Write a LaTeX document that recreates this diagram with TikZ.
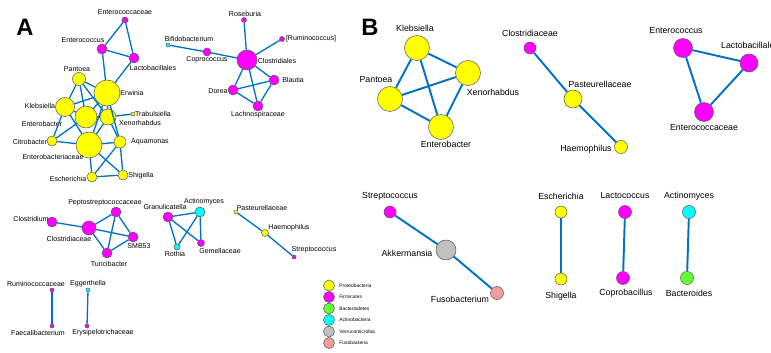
\documentclass[tikz,border=0pt]{standalone}
\usepackage{fontspec}
\setmainfont{Liberation Sans}
\usepackage{xcolor}
\usepackage{tikz}
\usetikzlibrary{arrows.meta}

\definecolor{edgeblue}{RGB}{0,114,198}
\definecolor{proyellow}{RGB}{255,255,0}
\definecolor{firmagenta}{RGB}{255,0,255}
\definecolor{bacgreen}{RGB}{102,255,51}
\definecolor{actcyan}{RGB}{0,255,255}
\definecolor{vergray}{RGB}{192,192,192}
\definecolor{fussalmon}{RGB}{244,155,155}

\newcommand\taxon[6]{\node[#1,minimum size=#4*0.4mm] (#2) at (#3) {};
  \node[lab] (#2-t) at (#5) {#6};}

\begin{document}
\begin{tikzpicture}[x=0.02cm,y=-0.02cm,
  sp/.style={circle,draw=black!65,line width=0.3pt,inner sep=0pt},
  pro/.style={sp,fill=proyellow},
  fir/.style={sp,fill=firmagenta},
  bac/.style={sp,fill=bacgreen},
  act/.style={sp,fill=actcyan},
  ver/.style={sp,fill=vergray},
  fus/.style={sp,fill=fussalmon},
  lab/.style={font=\fontsize{4}{4}\selectfont,inner sep=0pt},
  link/.style={draw=edgeblue,line width=0.75pt}]
\useasboundingbox (0,0) rectangle (771,352);

\node[font=\bfseries\fontsize{13.5}{14}\selectfont,inner sep=0pt] (labA) at (25,27) {A};
\node[font=\bfseries\fontsize{13.5}{14}\selectfont,inner sep=0pt] (labB) at (370,27) {B};

% panel A
\taxon{fir}{aEccae}{125,20}{3}{125,12}{Enterococcaceae}
\taxon{fir}{aEcoc}{102,49}{5}{83,40}{Enterococcus}
\taxon{fir}{aLact}{134,58}{5}{153,68}{Lactobacillales}
\taxon{pro}{aPant}{79,79}{6.5}{77,69}{Pantoea}
\taxon{pro}{aErw}{107,93}{13}{132,93}{Erwinia}
\taxon{pro}{aKleb}{65,107}{9.5}{40,106}{Klebsiella}
\taxon{pro}{aEntb}{86,117}{11}{42,124}{Enterobacter}
\taxon{pro}{aXen}{108,117}{8}{140,123}{Xenorhabdus}
\taxon{pro}{aTrab}{133,114}{2}{153,114}{Trabulsiella}
\taxon{pro}{aCit}{52,141}{5}{30,142}{Citrobacter}
\taxon{pro}{aEbac}{89,145}{13}{53,157}{Enterobacteriaceae}
\taxon{pro}{aAqua}{120,142}{6}{150,142}{Aquamonas}
\taxon{pro}{aEsch}{92,177}{5}{68,179}{Escherichia}
\taxon{pro}{aShig}{123,175}{5}{141,176}{Shigella}

\foreach \u/\v in {aEcoc/aEccae,aEcoc/aLact,aEccae/aLact,aEcoc/aErw,aLact/aErw,
  aPant/aErw,aPant/aKleb,aPant/aEntb,aPant/aXen,aErw/aKleb,aErw/aEntb,aErw/aXen,
  aErw/aEbac,aErw/aAqua,aKleb/aEntb,aKleb/aCit,aKleb/aEbac,aXen/aTrab,aXen/aAqua,
  aXen/aEbac,aXen/aEntb,aCit/aEbac,aCit/aEntb,aEbac/aAqua,aEbac/aEsch,aEbac/aShig,
  aAqua/aEsch,aAqua/aShig,aEsch/aShig}
  \draw[link] (\u) -- (\v);

\taxon{fir}{aRose}{244,20}{2.5}{245,14}{Roseburia}
\taxon{fir}{aRumi}{282,39}{2.5}{311,39}{[Ruminococcus]}
\taxon{act}{aBifi}{168,45}{2}{189,39}{Bifidobacterium}
\taxon{fir}{aCopr}{207,52}{4}{207,60}{Coprococcus}
\taxon{fir}{aClos}{247,60}{10}{277,61}{Clostridiales}
\taxon{fir}{aBlau}{274,80}{5}{293,80}{Blautia}
\taxon{fir}{aDore}{233,90}{5}{218,91}{Dorea}
\taxon{fir}{aLach}{258,106}{5}{258,115}{Lachnospiraceae}

\foreach \u/\v in {aRose/aClos,aRumi/aClos,aBifi/aCopr,aCopr/aClos,aClos/aBlau,
  aClos/aDore,aClos/aLach,aDore/aBlau,aDore/aLach,aBlau/aLach}
  \draw[link] (\u) -- (\v);

\taxon{fir}{aCdium}{52,222}{5}{31,219}{Clostridium}
\taxon{fir}{aPept}{116,212}{5}{105,203}{Peptostreptococcaceae}
\taxon{fir}{aCcae}{89,228}{7}{69,239}{Clostridiaceae}
\taxon{fir}{aSmb}{133,237}{5}{139,246}{SMB53}
\taxon{fir}{aTuri}{107,253}{5}{109,264}{Turicibacter}

\foreach \u/\v in {aCdium/aCcae,aCcae/aPept,aCcae/aSmb,aCcae/aTuri,aPept/aSmb,
  aPept/aTuri,aSmb/aTuri}
  \draw[link] (\u) -- (\v);

\taxon{fir}{aGran}{168,217}{5}{165,207}{Granulicatella}
\taxon{act}{aActi}{200,212}{5}{204,202}{Actinomyces}
\taxon{act}{aRoth}{177,247}{3}{175,254}{Rothia}
\taxon{fir}{aGeme}{201,243}{3.5}{220,251}{Gemellaceae}

\foreach \u/\v in {aGran/aActi,aGran/aRoth,aGran/aGeme,aActi/aRoth,aActi/aGeme}
  \draw[link] (\u) -- (\v);

\taxon{pro}{aPast}{236,212}{2}{262,208}{Pasteurellaceae}
\taxon{pro}{aHaem}{265,233}{3.5}{289,228}{Haemophilus}
\taxon{fir}{aStre}{294,257}{2}{314,250}{Streptococcus}
\draw[link] (aPast) -- (aHaem);
\draw[link] (aHaem) -- (aStre);

\taxon{fir}{aRcae}{52,290}{2}{36,284}{Ruminococcaceae}
\taxon{fir}{aFaec}{52,326}{2}{38,333}{Faecalibacterium}
\taxon{act}{aEgge}{88,290}{2}{88,284}{Eggerthella}
\taxon{fir}{aErys}{87,326}{2}{103,333}{Erysipelotrichaceae}
\draw[link] (aRcae) -- (aFaec);
\draw[link] (aEgge) -- (aErys);

% legend
\begin{scope}[lab/.style={font=\fontsize{2.8}{3}\selectfont,inner sep=0pt,anchor=west}]
\taxon{pro}{lgPro}{329,285.5}{5.5}{339,285.5}{Proteobacteria}
\taxon{fir}{lgFir}{329,297}{5.5}{339,297}{Firmicutes}
\taxon{bac}{lgBac}{329,308.5}{5.5}{339,308.5}{Bacteroidetes}
\taxon{act}{lgAct}{329,320}{5.5}{339,320}{Actinobacteria}
\taxon{ver}{lgVer}{329,331.5}{5.5}{339,331.5}{Verrucomicrobia}
\taxon{fus}{lgFus}{329,343}{5.5}{339,343}{Fusobacteria}
\end{scope}

% panel B
\begin{scope}[lab/.style={font=\fontsize{5}{5}\selectfont,inner sep=0pt},
  link/.append style={line width=1.1pt}]
\taxon{pro}{bKleb}{417,48}{12.5}{415,28}{Klebsiella}
\taxon{pro}{bXen}{468,73}{12.5}{493,92}{Xenorhabdus}
\taxon{pro}{bPant}{390,99}{12.5}{376,80}{Pantoea}
\taxon{pro}{bEntb}{441,127}{12.5}{446,144}{Enterobacter}
\foreach \u/\v in {bKleb/bXen,bKleb/bPant,bKleb/bEntb,bPant/bXen,bPant/bEntb,bXen/bEntb}
  \draw[link] (\u) -- (\v);

\taxon{fir}{bCcae}{530,48}{6}{530,33}{Clostridiaceae}
\taxon{pro}{bPast}{573,99}{9}{600,84}{Pasteurellaceae}
\taxon{pro}{bHaem}{621,147}{6.5}{586,149}{Haemophilus}
\draw[link] (bCcae) -- (bPast);
\draw[link] (bPast) -- (bHaem);

\taxon{fir}{bEcoc}{683,48}{9.5}{676,31}{Enterococcus}
\taxon{fir}{bLact}{749,63}{9}{750,45}{Lactobacillales}
\taxon{fir}{bEccae}{704,112}{9.5}{704,128}{Enterococcaceae}
\draw[link] (bEcoc) -- (bLact);
\draw[link] (bEcoc) -- (bEccae);
\draw[link] (bLact) -- (bEccae);

\taxon{fir}{bStre}{390,212}{6}{390,196}{Streptococcus}
\taxon{ver}{bAkke}{446,250}{10}{407,253}{Akkermansia}
\taxon{fus}{bFuso}{497,293}{6.5}{460,299}{Fusobacterium}
\draw[link] (bStre) -- (bAkke);
\draw[link] (bAkke) -- (bFuso);

\taxon{pro}{bEsch}{561,212}{6}{561,196}{Escherichia}
\taxon{pro}{bShig}{561,279}{6}{561,296}{Shigella}
\taxon{fir}{bLcoc}{625,212}{6.5}{625,196}{Lactococcus}
\taxon{fir}{bCopr}{623,278}{6.5}{626,293}{Coprobacillus}
\taxon{act}{bActi}{689,212}{6.5}{689,196}{Actinomyces}
\taxon{bac}{bBact}{687,278}{6.5}{689,293}{Bacteroides}
\draw[link] (bEsch) -- (bShig);
\draw[link] (bLcoc) -- (bCopr);
\draw[link] (bActi) -- (bBact);
\end{scope}
\end{tikzpicture}
\end{document}
